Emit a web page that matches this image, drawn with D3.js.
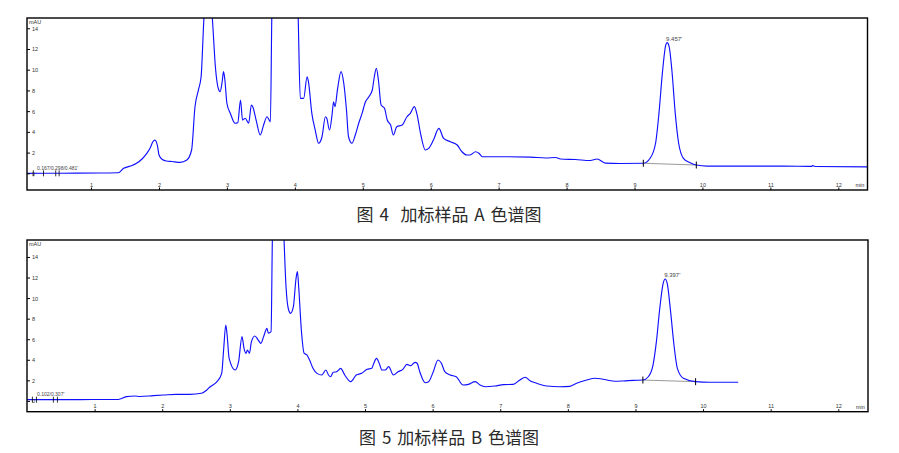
<!DOCTYPE html>
<html><head><meta charset="utf-8">
<script src="https://cdn.jsdelivr.net/npm/d3@7"></script>
<style>body{margin:0;background:#fff}svg{display:block}</style>
</head><body><svg id="c" width="899" height="453"></svg>
<script>
// ---- data ----
const timesA = [0.06,0.54,1.13,1.40,1.48,1.58,1.67,1.75,1.82,1.87,1.91,1.94,1.98,2.00,2.05,2.11,2.19,2.31,2.41,2.48,2.53,2.58,2.62,2.66,2.72,2.79,2.83,2.88,2.90,2.93,2.95,2.97,3.00,3.05,3.12,3.16,3.20,3.23,3.27,3.32,3.36,3.38,3.43,3.49,3.54,3.59,3.64,3.66,3.72,3.86,3.98,4.05,4.08,4.13,4.18,4.20,4.25,4.30,4.35,4.40,4.45,4.47,4.51,4.55,4.57,4.59,4.63,4.68,4.72,4.76,4.79,4.84,4.89,4.94,4.99,5.04,5.09,5.14,5.17,5.20,5.23,5.27,5.32,5.36,5.41,5.45,5.50,5.58,5.65,5.70,5.76,5.80,5.85,5.92,5.97,6.04,6.12,6.19,6.29,6.39,6.46,6.53,6.58,6.66,6.71,6.76,7.02,7.47,7.69,7.84,7.91,8.13,8.35,8.45,8.57,8.79,9.13,9.23,9.31,9.36,9.41,9.46,9.48,9.51,9.55,9.60,9.65,9.72,9.82,9.91,10.07,10.41,10.56,11.19,11.61,11.62,11.66,12.43];
const mauA = [0,0.01,0.03,0.05,0.48,0.70,0.97,1.38,1.93,2.44,3.05,3.21,2.57,1.77,1.33,1.19,1.14,1.05,1.28,2.25,6.43,8.04,9.32,14.8,20,14.5,10.29,8.04,7.88,8.84,9.81,9.01,6.76,5.79,4.83,4.88,7.08,5.14,5.31,4.83,6.59,6.43,5.14,3.70,4.66,5.46,4.98,14.8,30,45,30,14.8,7.24,7.24,9.32,8.84,5.79,4.18,2.90,3.53,5.46,5.31,4.18,5.79,6.91,6.43,8.20,9.81,8.69,6.11,3.53,2.90,3.70,4.83,5.79,6.91,7.39,8.04,9.32,10.14,9.01,6.59,6.27,5.14,4.66,3.70,4.50,4.66,5.46,5.79,6.43,5.63,3.86,2.25,2.41,3.21,4.34,3.38,3.05,2.73,2.08,1.77,1.77,2.08,1.93,1.60,1.60,1.57,1.48,1.53,1.38,1.33,1.24,1.38,0.99,0.95,0.97,1.45,2.90,5.79,9.65,12.38,12.61,12.22,9.97,5.79,2.90,1.45,1.02,0.80,0.70,0.70,0.70,0.70,0.67,0.74,0.66,0.62];

const timesB = [0.00,0.49,1.08,1.35,1.47,1.60,1.67,1.87,2.02,2.21,2.41,2.58,2.66,2.71,2.81,2.88,2.91,2.94,2.96,2.99,3.08,3.13,3.18,3.21,3.24,3.26,3.29,3.32,3.37,3.42,3.46,3.50,3.55,3.57,3.61,3.63,3.71,3.80,3.83,3.87,3.90,3.94,3.98,4.00,4.02,4.06,4.10,4.14,4.18,4.23,4.29,4.36,4.42,4.46,4.49,4.53,4.58,4.64,4.70,4.79,4.87,4.95,5.03,5.10,5.13,5.17,5.21,5.25,5.30,5.35,5.42,5.49,5.56,5.62,5.67,5.74,5.77,5.81,5.89,5.94,6.01,6.08,6.13,6.18,6.26,6.35,6.45,6.53,6.63,6.70,6.78,6.92,7.05,7.19,7.29,7.37,7.44,7.54,7.69,7.88,8.03,8.13,8.28,8.40,8.48,8.58,8.70,8.82,8.97,9.11,9.19,9.26,9.31,9.36,9.41,9.44,9.47,9.52,9.57,9.62,9.71,9.89,10.10,10.52];
const mauB = [0.12,0.12,0.14,0.14,0.41,0.48,0.43,0.51,0.57,0.64,0.64,0.74,1.06,1.38,1.87,2.68,5.12,7.38,6.41,4.14,3.01,3.81,6.25,5.12,4.63,4.95,4.63,5.76,6.31,5.92,5.60,6.25,7.06,6.58,6.73,16,30,16,11.27,8.84,8.52,9.16,11.93,12.57,10.95,6.73,4.63,4.47,3.98,3.17,2.68,2.52,3.01,2.52,2.35,2.78,2.84,3.17,2.52,1.87,2.52,2.68,3.07,3.17,3.66,4.14,3.66,3.01,3.01,3.33,2.52,2.84,3.07,3.56,3.42,3.75,3.66,2.84,1.77,1.87,2.84,3.98,3.66,2.84,2.52,2.35,1.55,1.61,1.87,1.55,1.38,1.45,1.58,1.61,2.03,2.30,1.96,1.71,1.45,1.38,1.42,1.71,2.03,2.20,2.16,2.03,1.91,1.94,2.00,2.03,2.35,3.49,5.76,9.01,11.44,11.86,11.44,8.68,5.44,3.17,2.20,1.87,1.81,1.81];

const xTickValues = [1,2,3,4,5,6,7,8,9,10,11,12];
const yTickValues = [0,2,4,6,8,10,12,14];

const peakTimeA = [9.48], peakMauA = [12.61], peakLabelA = ["9.457'"];
const peakTimeB = [9.44], peakMauB = [11.86], peakLabelB = ["9.397'"];
const baseTimesA = [9.13, 9.91], baseMauA = [0.97, 0.80];
const baseTimesB = [9.11, 9.89], baseMauB = [2.03, 1.87];
const startMarksA = [0.15, 0.30, 0.48, 0.53], startLabelA = "0.167/0.298/0.481'";
const startMarksB = [0.08, 0.14, 0.39, 0.45], startLabelB = "0.102/0.307'";
const captions = ["图 4\u00a0\u00a0加标样品 A 色谱图", "图 5 加标样品 B 色谱图"];

// ---- drawing ----
const svg = d3.select("#c");
const panels = [
  {l:27, r:867.5, t:18, b:190, xd:[0.057,12.43], yd:[-1.61,14.99], times:timesA, vals:mauA,
   pt:peakTimeA, pv:peakMauA, pl:peakLabelA, bt:baseTimesA, bv:baseMauA, sm:startMarksA, sl:startLabelA, cap:captions[0], capY:221},
  {l:27, r:868, t:240, b:411.7, xd:[0,12.44], yd:[-1.05,15.65], times:timesB, vals:mauB,
   pt:peakTimeB, pv:peakMauB, pl:peakLabelB, bt:baseTimesB, bv:baseMauB, sm:startMarksB, sl:startLabelB, cap:captions[1], capY:444}
];
const smallFont = "Liberation Sans, Arial, sans-serif";

panels.forEach((p, i) => {
  const x = d3.scaleLinear().domain(p.xd).range([p.l, p.r]);
  const y = d3.scaleLinear().domain(p.yd).range([p.b, p.t]);
  const g = svg.append("g");
  const cid = "clip" + i;
  svg.append("defs").append("clipPath").attr("id", cid)
    .append("rect").attr("x", p.l).attr("y", p.t).attr("width", p.r - p.l).attr("height", p.b - p.t);

  // integration baseline
  const bl = p.bt.map((t, k) => [x(t), y(p.bv[k])]);
  g.append("line").attr("x1", bl[0][0]).attr("y1", bl[0][1]).attr("x2", bl[1][0]).attr("y2", bl[1][1])
    .attr("stroke", "#9a9a9a").attr("stroke-width", 1);

  // trace
  const pts = p.times.map((t, k) => [t, p.vals[k]]);
  const line = d3.line().x(d => x(d[0])).y(d => y(d[1])).curve(d3.curveMonotoneX);
  g.append("path").attr("d", line(pts)).attr("clip-path", `url(#${cid})`)
    .attr("fill", "none").attr("stroke", "#1010ff").attr("stroke-width", 1.15);

  // baseline markers
  bl.forEach(d => {
    g.append("line").attr("x1", d[0]).attr("x2", d[0]).attr("y1", d[1] - 3.5).attr("y2", d[1] + 3.5)
      .attr("stroke", "#000").attr("stroke-width", 1);
  });
  // start markers
  p.sm.forEach(t => {
    const yy = y(p.vals[0]);
    g.append("line").attr("x1", x(t)).attr("x2", x(t)).attr("y1", yy - 3).attr("y2", yy + 3)
      .attr("stroke", "#000").attr("stroke-width", 0.8);
  });
  g.append("text").attr("x", p.l + 10).attr("y", y(p.vals[0]) - 3.5).text(p.sl)
    .attr("font-family", smallFont).attr("font-size", 5).attr("fill", "#444");

  // peak label
  p.pt.forEach((t, k) => {
    g.append("text").attr("x", x(t) - 1).attr("y", y(p.pv[k]) - 2).text(p.pl[k])
      .attr("font-family", smallFont).attr("font-size", 6).attr("fill", "#444");
  });

  // axes
  const ya = g.append("g").attr("transform", `translate(${p.l},0)`)
    .call(d3.axisRight(y).tickValues(yTickValues).tickSize(3).tickSizeOuter(0).tickPadding(2).tickFormat(d3.format("d")));
  const xa = g.append("g").attr("transform", `translate(0,${p.b})`)
    .call(d3.axisTop(x).tickValues(xTickValues).tickSize(2.5).tickSizeOuter(0).tickPadding(1).tickFormat(d3.format("d")));
  [ya, xa].forEach(a => {
    a.select(".domain").remove();
    a.selectAll("text").attr("font-family", smallFont).attr("font-size", 5.5).attr("fill", "#333");
    a.selectAll("line").attr("stroke", "#000");
  });
  ya.selectAll("text").attr("dy", "0.35em");

  // frame
  g.append("rect").attr("x", p.l).attr("y", p.t).attr("width", p.r - p.l).attr("height", p.b - p.t)
    .attr("fill", "none").attr("stroke", "#000").attr("stroke-width", 1.4);

  g.append("text").attr("x", p.l + 2).attr("y", p.t + 5.5).text("mAU")
    .attr("font-family", smallFont).attr("font-size", 5.5).attr("fill", "#333");
  g.append("text").attr("x", p.r - 12).attr("y", p.b - 3).text("min")
    .attr("font-family", smallFont).attr("font-size", 5.5).attr("fill", "#333");

  // caption
  svg.append("text").attr("x", 449).attr("y", p.capY).attr("text-anchor", "middle")
    .text(p.cap)
    .attr("font-family", "Noto Sans CJK SC, sans-serif").attr("font-size", 17)
    .attr("word-spacing", 2).attr("fill", "#2a2a2a");
});
</script>
</body></html>
